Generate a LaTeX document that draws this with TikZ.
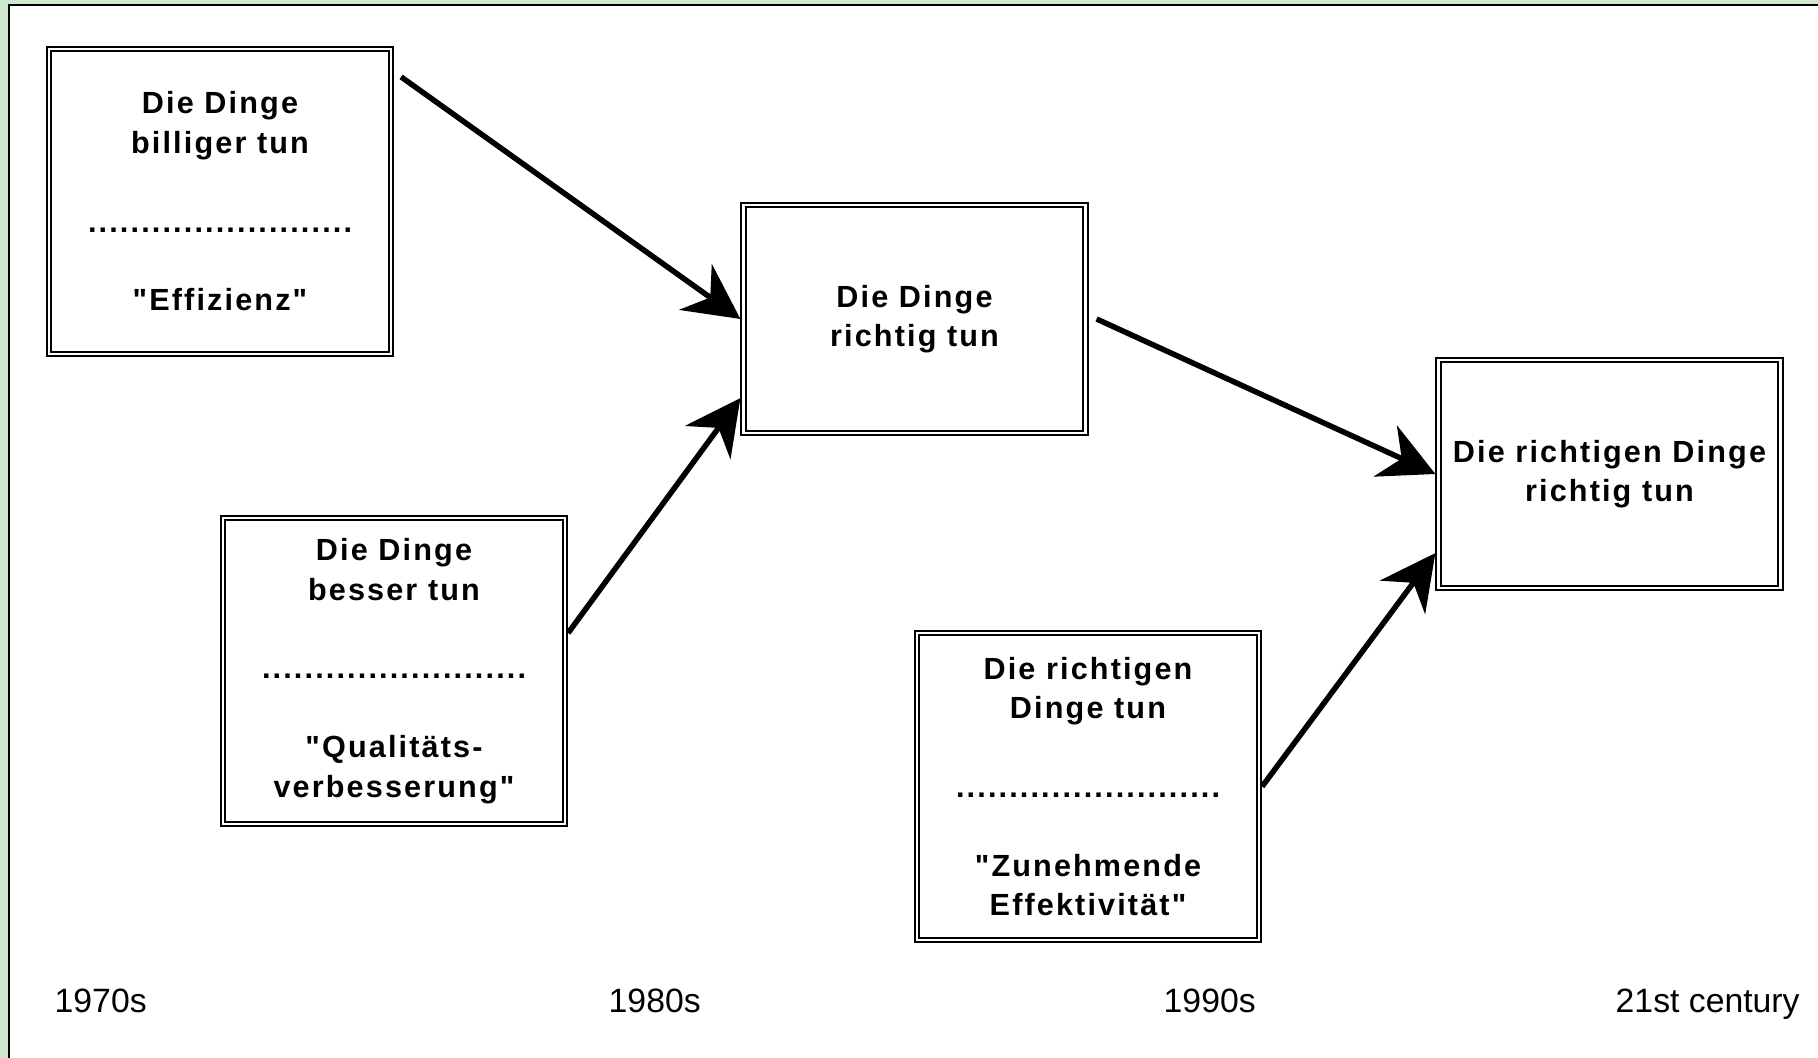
\documentclass[tikz,border=0pt]{standalone}
\usepackage{fontspec}
\setmainfont{Liberation Sans}
\newfontfamily\boxfont[LetterSpace=7]{Liberation Sans}
\usetikzlibrary{arrows.meta}
\definecolor{rahmengruen}{RGB}{206,231,206}

\begin{document}
\begin{tikzpicture}[x=0.01cm,y=-0.01cm,
    kasten/.style={draw,double,line width=0.02cm,double distance=0.025cm,outer sep=0.0325cm,
      inner sep=0,minimum width=3.415cm,align=center,font=\boxfont\bfseries\fontsize{8.7}{11.2}\selectfont},
    pfeil/.style={line width=0.055cm,-{Stealth[length=0.55cm,width=0.56cm,inset=0.18cm]}},
    jahr/.style={anchor=base west,inner sep=0,font=\fontsize{9.6}{11}\selectfont}]
  \useasboundingbox (0,0) rectangle (1818,1058);
  \fill[rahmengruen] (0,0) rectangle (1818,1058);
  \fill[white] (9,5) rectangle (1818,1058);
  \draw[line width=0.02cm] (9,1058) -- (9,5) -- (1818,5);

  \node[kasten,minimum height=3.045cm] (b1) at (220,201.5)
    {Die Dinge\\billiger tun\\[11.2pt].........................\\[11.2pt]"Effizienz"};
  \node[kasten,minimum height=3.055cm] (b4) at (394,671)
    {Die Dinge\\besser tun\\[11.2pt].........................\\[11.2pt]"Qualitäts-\\verbesserung"};
  \node[kasten,minimum height=2.275cm] (b2) at (914.5,319) {Die Dinge\\richtig tun};
  \node[kasten,minimum height=3.065cm] (b5) at (1088,786.5)
    {Die richtigen\\Dinge tun\\[11.2pt].........................\\[11.2pt]"Zunehmende\\Effektivität"};
  \node[kasten,minimum height=2.275cm] (b3) at (1609.5,474) {Die richtigen Dinge\\richtig tun};

  \draw[pfeil] ([shift={(7,31)}]b1.north east) -- (b2.west);
  \draw[pfeil] ([shift={(0,-38)}]b4.east) -- ([shift={(0,-38)}]b2.south west);
  \draw[pfeil] ([shift={(8,0)}]b2.east) -- (b3.west);
  \draw[pfeil] (b5.east) -- ([shift={(0,-38)}]b3.south west);

  \foreach \x/\t [count=\i] in {54/1970s,608/1980s,1163/1990s,1615/21st century}
    \node[jahr] (j\i) at (\x,1012) {\t};
\end{tikzpicture}
\end{document}
